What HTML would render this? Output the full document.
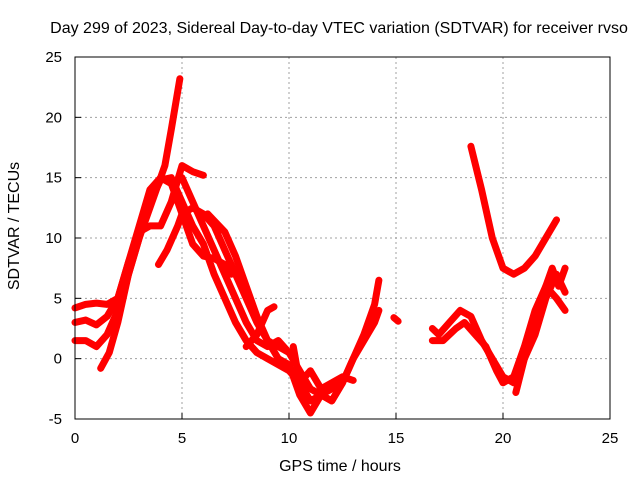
<!DOCTYPE html>
<html><head><meta charset="utf-8"><style>
body{margin:0;background:#fff;}
svg{display:block;font-family:"Liberation Sans",sans-serif;}
</style></head><body>
<svg id="chart" width="640" height="480" viewBox="0 0 640 480">
<text x="339" y="33" font-size="16" text-anchor="middle">Day 299 of 2023, Sidereal Day-to-day VTEC variation (SDTVAR) for receiver rvso</text>
<text x="340" y="471" font-size="16" text-anchor="middle">GPS time / hours</text>
<text x="19" y="226" font-size="16" text-anchor="middle" transform="rotate(-90 19 226)">SDTVAR / TECUs</text>
<g id="grid"></g><g id="series"></g><g id="axes"></g>
</svg>
<script>
const xTicks=[0,5,10,15,20,25];
const yTicks=[-5,0,5,10,15,20,25];
const sA=[[1.2,-0.8],[1.6,0.5],[2,3],[2.5,7],[3,10],[3.4,12],[3.8,14],[4.2,16],[4.5,19],[4.9,23.2]];
const sB=[[0,4.2],[0.5,4.5],[1,4.6],[1.5,4.5],[2,5],[2.5,8],[3,11],[3.5,14],[4,15],[4.5,14.5],[5,12],[5.5,9.5],[6,8.5],[6.5,8.3],[7,7.8],[7.3,7]];
const sC=[[0,3],[0.5,3.2],[1,2.8],[1.5,3.5],[2,5],[2.5,8],[3,10.5],[3.5,11],[4,11],[4.5,13],[5,16],[5.5,15.5],[6,15.2]];
const sD=[[0,1.5],[0.5,1.5],[1,1],[1.5,2],[2,4],[2.5,7],[3,10],[3.5,13],[4,14.8],[4.5,15],[5,13],[5.5,11],[6,9.5],[6.5,7],[7,5],[7.5,3],[8,1.5],[8.5,0.5],[9,0],[9.5,-0.5],[10,-1],[10.5,-2],[11,-3.5],[11.5,-3],[12,-2.5],[12.5,-2]];
const sE=[[3.9,7.8],[4.3,9],[4.8,11],[5,12],[5.5,12.5],[6,12],[6.5,11],[7,9],[7.5,7],[8,5],[8.5,3],[9,1.5],[9.5,1],[10,0.5],[10.5,-1],[11,-2.5],[11.5,-3],[12,-3.5],[12.5,-2],[13,0],[13.5,1.5],[14,3],[14.2,4]];
const sF=[[5,15],[5.5,13],[6,11],[6.5,9],[7,7],[7.5,5],[8,3],[8.5,1.5],[9,1],[9.5,1.5],[10,0.5]];
const sF2=[[8,1],[8.5,2],[9,4],[9.3,4.3]];
const sG=[[6.2,12],[7,10.5],[7.5,8.5],[8,6],[8.5,3.5],[9,1.5],[9.5,0],[10,-0.5],[10.5,-3],[11,-4.5],[11.5,-3],[12,-3.5],[12.5,-2],[13,0],[13.5,2],[14,4.5],[14.2,6.5]];
const sH=[[10.2,1],[10.5,-2],[11,-1],[11.5,-2.5],[12,-2],[12.5,-1.5],[13,-1.8]];
const sP=[[14.9,3.4],[15.1,3.1]];
const sI=[[18.5,17.6],[19,14],[19.5,10],[20,7.5],[20.5,7],[21,7.5],[21.5,8.5],[22,10],[22.5,11.5]];
const sJ=[[16.7,2.5],[17,2],[17.5,3],[18,4],[18.5,3.5],[19,1.5],[19.5,0],[20,-1.5],[20.5,-2],[21,0],[21.5,3],[22,6],[22.3,7.5],[22.6,6],[22.9,7.5]];
const sK=[[16.7,1.5],[17.2,1.5],[17.8,2.5],[18.2,3],[18.7,2],[19.2,1],[19.7,-1],[20,-2],[20.5,-1.5],[21,1],[21.5,4],[22,6],[22.5,5],[22.9,4]];
const sL=[[20.6,-2.8],[21,0],[21.5,2],[22,5],[22.5,7],[22.9,5.5]];
const allSeries=[sA,sB,sC,sD,sE,sF,sF2,sG,sH,sP,sI,sJ,sK,sL];
const L=75,R=610,T=57,B=419;
const X=v=>L+(v-0)/(25-0)*(R-L);
const Y=v=>B-(v+5)/(30)*(B-T);
const NS="http://www.w3.org/2000/svg";
const grid=document.getElementById('grid'),axes=document.getElementById('axes'),ser=document.getElementById('series');
function mk(tag,attrs,parent){const e=document.createElementNS(NS,tag);for(const k in attrs)e.setAttribute(k,attrs[k]);parent.appendChild(e);return e;}
xTicks.forEach(t=>{
 if(t>0&&t<25){const g=mk('line',{x1:X(t),x2:X(t),y1:T,y2:B,stroke:'#a0a0a0','stroke-dasharray':'2,3'},grid);
 
 }
 const tk=mk('line',{x1:X(t),x2:X(t),y1:B,y2:B-6,stroke:'#000'},axes);
 
 
 const tx=mk('text',{x:X(t),y:B+24,'font-size':15,'text-anchor':'middle'},axes);tx.textContent=t;
 
 
});
yTicks.forEach(t=>{
 if(t>-5&&t<25){const g=mk('line',{x1:L,x2:R,y1:Y(t),y2:Y(t),stroke:'#a0a0a0','stroke-dasharray':'2,3'},grid);
 
 }
 const tk=mk('line',{x1:L,x2:L+6,y1:Y(t),y2:Y(t),stroke:'#000'},axes);
 
 
 const tx=mk('text',{x:L-13,y:Y(t)+5,'font-size':15,'text-anchor':'end'},axes);tx.textContent=t;
 
 
});
const fr=mk('rect',{x:L,y:T,width:R-L,height:B-T,fill:'none',stroke:'#000'},axes);


allSeries.forEach((s,i)=>{
 const p=mk('polyline',{points:s.map(d=>X(d[0])+','+Y(d[1])).join(' '),fill:'none',stroke:'#ff0000','stroke-width':7,'stroke-linejoin':'round','stroke-linecap':'round'},ser);
 
 
});
</script>
</body></html>
